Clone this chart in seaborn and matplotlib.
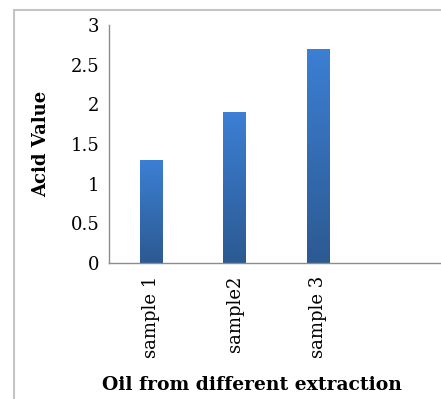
import matplotlib
matplotlib.use("Agg")
import matplotlib.pyplot as plt
import numpy as np
import pandas as pd
import seaborn as sns
from matplotlib.patches import Rectangle
from matplotlib.colors import LinearSegmentedColormap

# data
samples = ["sample 1", "sample2", "sample 3"]
acid_values = [1.3, 1.9, 2.7]
y_ticks = [0, 0.5, 1, 1.5, 2, 2.5, 3]
y_tick_labels = ["0", "0.5", "1", "1.5", "2", "2.5", "3"]

df = pd.DataFrame({"sample": samples, "acid": acid_values})

sns.set_style("white")
plt.rcParams["font.family"] = ["DejaVu Serif"]
plt.rcParams["text.color"] = "black"
plt.rcParams["axes.labelcolor"] = "black"
plt.rcParams["xtick.color"] = "black"
plt.rcParams["ytick.color"] = "black"

fig = plt.figure(figsize=(4.41, 3.99), dpi=100)
ax = fig.add_axes([0.247, 0.341, 0.76, 0.596])

sns.barplot(data=df, x="sample", y="acid", color="#3a78c8", width=0.27,
            saturation=1, ax=ax)

# excel-like vertical gradient on each bar
grad = LinearSegmentedColormap.from_list("bar", ["#2c5a92", "#3c7fd4"])
g = np.linspace(0, 1, 100).reshape(-1, 1)
for p in ax.patches:
    x0, y0 = p.get_x(), p.get_y()
    w, h = p.get_width(), p.get_height()
    im = ax.imshow(g, cmap=grad, aspect="auto", origin="lower",
                   extent=[x0, x0 + w, y0, y0 + h], zorder=p.get_zorder() + 0.1)
    im.set_clip_path(p)

ax.set_xlim(-0.5, 3.5)
ax.set_ylim(0, 3)
ax.set_yticks(y_ticks)
ax.set_yticklabels(y_tick_labels, fontsize=13)
ax.set_xticks(range(len(samples)))
ax.set_xticklabels(samples, rotation=90, fontsize=13, va="top")

ax.set_xlabel("Oil from different extraction", fontsize=13.5, fontweight="bold")
ax.set_ylabel("Acid Value", fontsize=13, fontweight="bold")
ax.xaxis.set_label_coords(0.427, -0.475)
ax.yaxis.set_label_coords(-0.176, 0.5)

for s in ["top", "right"]:
    ax.spines[s].set_visible(False)
for s in ["left", "bottom"]:
    ax.spines[s].set_color("#8c8c8c")
    ax.spines[s].set_linewidth(1)
ax.tick_params(axis="y", direction="out", length=4, width=1, color="#8c8c8c",
               labelcolor="black", pad=3)
ax.tick_params(axis="x", length=0, pad=9, labelcolor="black")

# light frame around the chart area
fig.patches.append(Rectangle((14 / 441, -0.05), 1.1, 1 - 10 / 399 + 0.05,
                             transform=fig.transFigure, fill=False,
                             edgecolor="#c4c4c4", linewidth=1.5))

fig.savefig("out.png", dpi=100)
